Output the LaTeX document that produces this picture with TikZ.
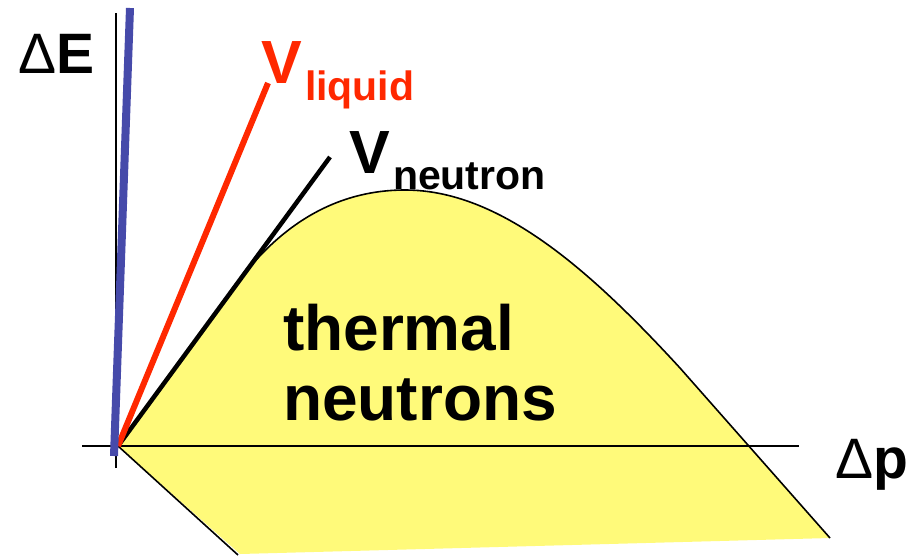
\documentclass[tikz,border=0pt]{standalone}
\usepackage{fontspec}
\setmainfont{Liberation Sans}
\definecolor{fillyellow}{RGB}{255,250,122}
\definecolor{liqred}{RGB}{255,40,0}
\definecolor{axblue}{RGB}{70,74,170}
\begin{document}
\begin{tikzpicture}[x=1pt,y=-1pt,
  lbl/.style={inner sep=0pt,outer sep=0pt,anchor=base west},
  big/.style={lbl,font=\fontsize{57}{57}\selectfont\bfseries},
  bigv/.style={lbl,font=\fontsize{61}{61}\selectfont\bfseries},
  sub/.style={lbl,font=\fontsize{41}{41}\selectfont\bfseries},
  body/.style={lbl,font=\fontsize{64}{64}\selectfont\bfseries},
  thinline/.style={draw=black,line width=1.6pt},
  axisline/.style={draw=black,line width=1.8pt}]
\useasboundingbox (0,0) rectangle (913,558);
% key points
\coordinate (O) at (118,446);
\coordinate (Cs) at (235,286);
\coordinate (Pk) at (405,190);
\coordinate (Cd) at (680,368);
\coordinate (BR) at (830,538);
\coordinate (BL) at (238,555);
% yellow region
\fill[fillyellow] (O) -- (Cs) .. controls (275,231) and (330,190) .. (Pk)
  .. controls (500,190) and (590,270) .. (Cd) -- (BR) -- (240,554) -- cycle;
\draw[thinline] (O) -- (Cs) .. controls (275,231) and (330,190) .. (Pk)
  .. controls (500,190) and (590,270) .. (Cd) -- (BR);
\draw[thinline] (O) -- (BL);
% axes
\coordinate (Vtop) at (116,13);
\coordinate (Vbot) at (116,468);
\coordinate (Hl) at (82,446);
\coordinate (Hr) at (799,446);
\draw[axisline,line width=1.4pt] (Vbot) -- (Vtop);
\draw[axisline] (Hl) -- (Hr);
% velocity lines
\coordinate (Btop) at (130,8);
\coordinate (Bbot) at (114,456);
\coordinate (Ntop) at (330,157);
\coordinate (Rtop) at (268,83);
\draw[black,line width=4.5pt] (O) -- (Ntop);
\draw[liqred,line width=6pt] (O) -- (Rtop);
\draw[axblue,line width=8pt] (Bbot) -- (Btop);
% labels
\node[big] (dE) at (18,73) {{\mdseries Δ}E};
\node[big] (dp) at (835,478) {{\mdseries Δ}p};
\node[bigv,text=liqred] (vl) at (261,83) {V};
\node[sub,text=liqred] (liq) at (305,100) {liquid};
\node[bigv] (vn) at (349,173) {V};
\node[sub] (neu) at (393,189) {neutron};
\node[body] (th) at (283,350) {thermal};
\node[body] (nt) at (283,420) {neutrons};
\end{tikzpicture}
\end{document}
